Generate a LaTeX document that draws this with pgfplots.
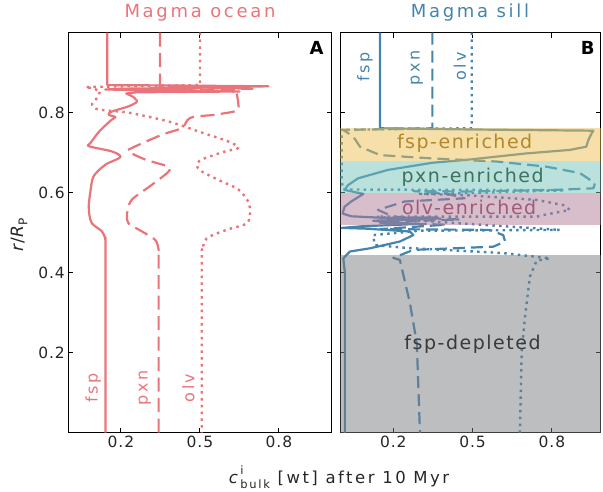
\documentclass[border=0pt]{standalone}
\usepackage{pgfplots}
\pgfplotsset{compat=1.18}
\usepackage{fontspec}
\setmainfont{DejaVu Sans}
\newfontfamily\tickf[LetterSpace=6]{DejaVu Sans}
\newfontfamily\labf[LetterSpace=15]{DejaVu Sans}
\newfontfamily\titf[LetterSpace=15]{DejaVu Sans}
\newfontfamily\bandf[LetterSpace=8]{DejaVu Sans}
\definecolor{ocean}{HTML}{E9757B}
\definecolor{sill}{HTML}{4484AD}
\definecolor{bandF}{HTML}{EDBF53}
\definecolor{bandP}{HTML}{75C3B7}
\definecolor{bandO}{HTML}{B17B97}
\definecolor{bandG}{HTML}{7B7D81}
\definecolor{txtF}{HTML}{B0892E}
\definecolor{txtP}{HTML}{3B7260}
\definecolor{txtO}{HTML}{A0597A}
\definecolor{txtG}{HTML}{3A3A3A}
\pgfplotsset{
  panel/.style={
    scale only axis, height=400pt, ymin=0, ymax=1,
    ytick={0.2,0.4,0.6,0.8}, xtick={0.2,0.5,0.8},
    tick align=inside, major tick length=5pt,
    axis line style={line width=1.1pt, black},
    every tick/.style={black, line width=1pt},
    tick label style={font=\tickf\fontsize{15.5}{18}\selectfont, text=black!85},
    /pgf/number format/assume math mode=true,
    clip=true, axis on top=false,
  },
  solidL/.style={line width=2.2pt, line join=round},
  dashL/.style={line width=2.2pt, line join=round, dash pattern=on 14pt off 6.5pt},
  dashR/.style={line width=2.2pt, line join=round, dash pattern=on 12pt off 6pt},
  dotL/.style={line width=2.4pt, line join=round, dash pattern=on 2.5pt off 4.3pt},
}
\begin{document}
\begin{tikzpicture}[x=1pt,y=1pt]
\path[use as bounding box] (0,0) rectangle (603,491);
% ---------------- Left panel: Magma ocean ----------------
\begin{axis}[panel, at={(68.3pt,58.3pt)}, anchor=south west, width=263.3pt, xmin=0, xmax=1]
% fsp
\addplot[solidL, ocean] coordinates {(0.148,1.0)(0.148,0.869)(0.40,0.868)(0.76,0.866)(0.45,0.862)(0.20,0.860)(0.14,0.858)(0.30,0.856)(0.55,0.855)(0.65,0.853)(0.45,0.852)(0.26,0.851)(0.22,0.848)(0.243,0.841)};
\addplot[solidL, ocean, smooth] coordinates {(0.243,0.841)(0.261,0.828)(0.229,0.816)(0.166,0.803)(0.153,0.795)(0.179,0.789)(0.166,0.783)(0.12,0.755)(0.084,0.724)(0.079,0.716)(0.166,0.703)(0.198,0.689)(0.141,0.67)(0.096,0.641)(0.084,0.603)(0.078,0.57)(0.08,0.545)(0.09,0.523)(0.128,0.503)(0.141,0.482)(0.141,0.45)(0.141,0.0)};
% pxn
\addplot[dashL, ocean] coordinates {(0.348,1)(0.348,0.869)(0.348,0.866)(0.55,0.862)(0.70,0.860)(0.45,0.857)(0.62,0.855)(0.64,0.848)};
\addplot[dashL, ocean, smooth] coordinates {(0.64,0.848)(0.646,0.82)(0.64,0.805)(0.557,0.795)(0.463,0.787)(0.432,0.762)(0.356,0.745)(0.242,0.712)(0.229,0.703)(0.292,0.683)(0.375,0.666)(0.381,0.653)(0.318,0.62)(0.242,0.583)(0.225,0.555)(0.223,0.54)(0.229,0.523)(0.28,0.503)(0.33,0.482)(0.343,0.457)(0.343,0.42)(0.343,0)};
% olv
\addplot[dotL, ocean] coordinates {(0.50,1)(0.50,0.869)(0.30,0.867)(0.065,0.864)(0.10,0.860)(0.12,0.852)};
\addplot[dotL, ocean, smooth] coordinates {(0.12,0.852)(0.109,0.837)(0.09,0.82)(0.115,0.808)(0.229,0.8)(0.381,0.778)(0.495,0.753)(0.608,0.728)(0.646,0.712)(0.595,0.703)(0.507,0.683)(0.488,0.668)(0.507,0.653)(0.583,0.628)(0.646,0.608)(0.684,0.577)(0.69,0.548)(0.677,0.523)(0.601,0.507)(0.526,0.486)(0.51,0.457)(0.507,0.42)(0.507,0)};
\node[rotate=90, text=ocean, font=\labf\fontsize{16}{19}\selectfont] at (axis cs:0.095,0.112) {fsp};
\node[rotate=90, text=ocean, font=\labf\fontsize{16}{19}\selectfont] at (axis cs:0.291,0.112) {pxn};
\node[rotate=90, text=ocean, font=\labf\fontsize{16}{19}\selectfont] at (axis cs:0.456,0.112) {olv};
\node[font=\fontsize{18}{21}\selectfont\bfseries] at (axis cs:0.943,0.961) {A};
\end{axis}
% ---------------- Right panel: Magma sill ----------------
\begin{axis}[panel, at={(340.4pt,58.3pt)}, anchor=south west, width=260.4pt, xmin=0, xmax=0.985, yticklabels={}]
% fsp
\addplot[solidL, sill] coordinates {(0.15,1)(0.15,0.761)(0.50,0.758)(0.957,0.755)(0.95,0.748)(0.938,0.732)(0.93,0.715)(0.868,0.707)(0.70,0.698)(0.49,0.683)(0.35,0.675)(0.18,0.657)(0.067,0.636)(0.029,0.619)(0.016,0.607)(0.087,0.597)(0.041,0.578)(0.016,0.565)(0.008,0.548)(0.041,0.541)(0.168,0.537)(0.369,0.538)(0.30,0.533)(0.124,0.530)(0.20,0.525)(0.30,0.522)(0.08,0.516)(0.005,0.512)(0.10,0.510)(0.263,0.503)(0.276,0.494)(0.225,0.478)(0.112,0.461)(0.036,0.453)(0.011,0.436)(0.017,0.40)(0.017,0)};
% pxn
\addplot[dashR, sill] coordinates {(0.348,1)(0.348,0.761)(0.20,0.759)(0.011,0.757)(0.049,0.74)(0.074,0.715)(0.15,0.694)(0.339,0.686)(0.591,0.678)(0.78,0.665)(0.906,0.649)(0.963,0.624)(0.957,0.611)(0.805,0.607)(0.49,0.603)(0.276,0.604)(0.40,0.598)(0.47,0.586)(0.243,0.578)(0.142,0.557)(0.20,0.540)(0.45,0.533)(0.30,0.530)(0.15,0.525)(0.40,0.52)(0.15,0.509)(0.565,0.507)(0.616,0.494)(0.623,0.478)(0.578,0.465)(0.276,0.457)(0.20,0.437)(0.225,0.432)(0.263,0.324)(0.289,0.224)(0.301,0)};
% olv
\addplot[dotL, sill] coordinates {(0.497,1)(0.497,0.761)(0.20,0.759)(0.005,0.757)(0.005,0.632)(0.01,0.608)(0.52,0.607)(0.85,0.606)(0.52,0.600)(0.30,0.597)(0.47,0.594)(0.742,0.582)(0.843,0.569)(0.868,0.557)(0.767,0.544)(0.742,0.54)(0.137,0.54)(0.30,0.53)(0.83,0.507)(0.30,0.505)(0.124,0.494)(0.13,0.469)(0.25,0.462)(0.45,0.455)(0.616,0.449)(0.793,0.436)(0.742,0.43)(0.717,0.39)(0.70,0.30)(0.686,0.207)(0.679,0)};
% bands
\fill[bandF, fill opacity=0.5] (axis cs:0,0.680) rectangle (axis cs:1,0.761);
\fill[bandP, fill opacity=0.5] (axis cs:0,0.598) rectangle (axis cs:1,0.680);
\fill[bandO, fill opacity=0.5] (axis cs:0,0.519) rectangle (axis cs:1,0.598);
\fill[bandG, fill opacity=0.5] (axis cs:0,0) rectangle (axis cs:1,0.444);
\node[text=txtF, font=\bandf\fontsize{19}{22}\selectfont] at (axis cs:0.47,0.723) {fsp-enriched};
\node[text=txtP, font=\bandf\fontsize{19}{22}\selectfont] at (axis cs:0.50,0.639) {pxn-enriched};
\node[text=txtO, font=\bandf\fontsize{19}{22}\selectfont] at (axis cs:0.487,0.563) {olv-enriched};
\node[text=txtG, font=\bandf\fontsize{19}{22}\selectfont] at (axis cs:0.50,0.222) {fsp-depleted};
\node[rotate=90, text=sill, font=\labf\fontsize{16}{19}\selectfont] at (axis cs:0.093,0.915) {fsp};
\node[rotate=90, text=sill, font=\labf\fontsize{16}{19}\selectfont] at (axis cs:0.289,0.912) {pxn};
\node[rotate=90, text=sill, font=\labf\fontsize{16}{19}\selectfont] at (axis cs:0.452,0.915) {olv};
\node[font=\fontsize{18}{21}\selectfont\bfseries] at (axis cs:0.936,0.961) {B};
\end{axis}
% titles and labels
\node[text=ocean, font=\titf\fontsize{18}{21}\selectfont, anchor=base] at (200,473) {Magma ocean};
\node[text=sill, font=\titf\fontsize{18}{21}\selectfont, anchor=base] at (470,473) {Magma sill};
\node[font=\labf\fontsize{16.5}{19}\selectfont, anchor=base, text=black!85] at (339,7.5) {\textit{c}\makebox[0pt][l]{\raisebox{0.55em}{\fontsize{11.5}{12}\selectfont i}}\raisebox{-0.3em}{\fontsize{11.5}{12}\selectfont bulk} [wt] after 10 Myr};
\node[font=\fontsize{17}{19}\selectfont, rotate=90, text=black!85] at (19,256) {\textit{r}/\textit{R}\raisebox{-0.25em}{\fontsize{12}{12}\selectfont P}};
\end{tikzpicture}
\end{document}
